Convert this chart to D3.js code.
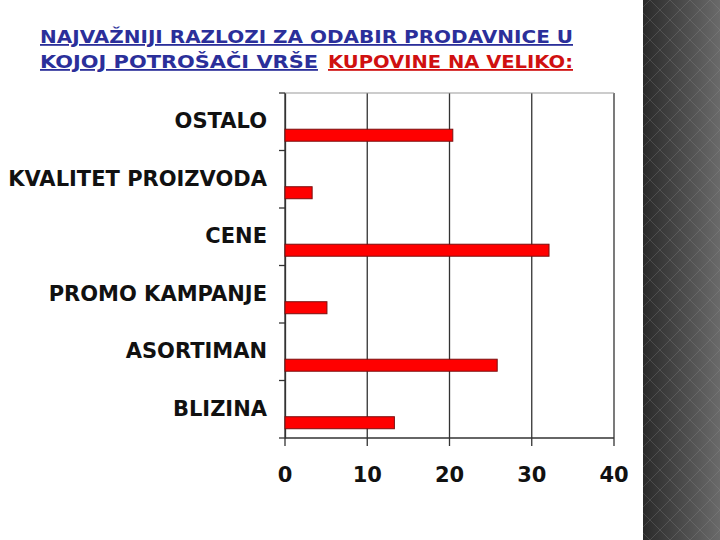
<!DOCTYPE html>
<html><head><meta charset="utf-8">
<script src="https://cdn.jsdelivr.net/npm/d3@7"></script>
<style>body{margin:0;background:#fff}svg{display:block}</style>
</head><body>
<svg id="chart" width="720" height="540"></svg>
<script>
var categories = ["OSTALO", "KVALITET PROIZVODA", "CENE", "PROMO KAMPANJE", "ASORTIMAN", "BLIZINA"];
var values = [20.4, 3.3, 32.1, 5.1, 25.8, 13.3];
var xTicks = [0, 10, 20, 30, 40];

var svg = d3.select("#chart");
var defs = svg.append("defs");
var grad = defs.append("linearGradient").attr("id", "side").attr("x1", 0).attr("x2", 1);
grad.append("stop").attr("offset", "0").attr("stop-color", "#2a2a2a");
grad.append("stop").attr("offset", "1").attr("stop-color", "#6a6a6a");
var pat = defs.append("pattern").attr("id", "dia").attr("width", 20).attr("height", 20)
  .attr("patternUnits", "userSpaceOnUse");
pat.append("path").attr("d", "M10 0 L20 10 L10 20 L0 10 Z").attr("fill", "none")
  .attr("stroke", "#999").attr("stroke-opacity", 0.25);

svg.append("rect").attr("x", 643).attr("y", 0).attr("width", 77).attr("height", 540).attr("fill", "url(#side)");
svg.append("rect").attr("x", 643).attr("y", 0).attr("width", 77).attr("height", 540).attr("fill", "url(#dia)");

var tf = {"font-family": "DejaVu Sans", "font-weight": "bold", "font-size": 18, "text-decoration": "underline"};
function tline(txt, xx, yy, w, col) {
  var t = svg.append("text").attr("x", xx).attr("y", yy).attr("fill", col)
    .attr("textLength", w).attr("lengthAdjust", "spacingAndGlyphs").text(txt);
  Object.keys(tf).forEach(k => t.attr(k, tf[k]));
}
tline("NAJVAŽNIJI RAZLOZI ZA ODABIR PRODAVNICE U", 40, 43, 533, "#2b2f9a");
tline("KOJOJ POTROŠAČI VRŠE", 40, 68, 278, "#2b2f9a");
tline("KUPOVINE NA VELIKO:", 328, 68, 245, "#d01010");

var x = d3.scaleLinear().domain([0, 40]).range([285, 614]);
var y = d3.scaleBand().domain(categories).range([93, 438]);

var g = svg.append("g");
g.selectAll(".grid").data(xTicks).join("line")
  .attr("x1", d => x(d)).attr("x2", d => x(d)).attr("y1", 93).attr("y2", 446)
  .attr("stroke", "#333").attr("stroke-width", 1.3);
g.append("line").attr("x1", 285).attr("x2", 614).attr("y1", 438).attr("y2", 438).attr("stroke", "#333").attr("stroke-width", 1.3);
g.append("line").attr("x1", 285).attr("x2", 614).attr("y1", 93).attr("y2", 93).attr("stroke", "#999").attr("stroke-width", 1);

var yAxis = svg.append("g").attr("transform", "translate(285,0)")
  .call(d3.axisLeft(y).tickSize(0).tickPadding(18));
yAxis.select(".domain").attr("stroke", "#333").attr("stroke-width", 1.3);
yAxis.selectAll("text").attr("font-family", "DejaVu Sans").attr("font-weight", "bold")
  .attr("font-size", 21).attr("fill", "#111").attr("dy", "0.32em").attr("x", -18)
  .attr("textLength", function () { return this.getComputedTextLength() * 1.0; });
svg.selectAll(".bt").data(categories.concat(["end"])).join("line")
  .attr("x1", 279).attr("x2", 285)
  .attr("y1", (d, i) => 93 + i * y.bandwidth()).attr("y2", (d, i) => 93 + i * y.bandwidth())
  .attr("stroke", "#333").attr("stroke-width", 1.3);

svg.selectAll(".bar").data(values).join("rect")
  .attr("x", x(0)).attr("y", (d, i) => y(categories[i]) + y.bandwidth() * 0.63)
  .attr("width", d => x(d) - x(0)).attr("height", 12)
  .attr("fill", "#ff0000").attr("stroke", "#7a1010").attr("stroke-width", 1);

svg.selectAll(".xl").data(xTicks).join("text")
  .attr("x", d => x(d)).attr("y", 482).attr("text-anchor", "middle")
  .attr("font-family", "DejaVu Sans").attr("font-weight", "bold").attr("font-size", 21).attr("fill", "#111")
  .text(d => d);
</script>
</body></html>
